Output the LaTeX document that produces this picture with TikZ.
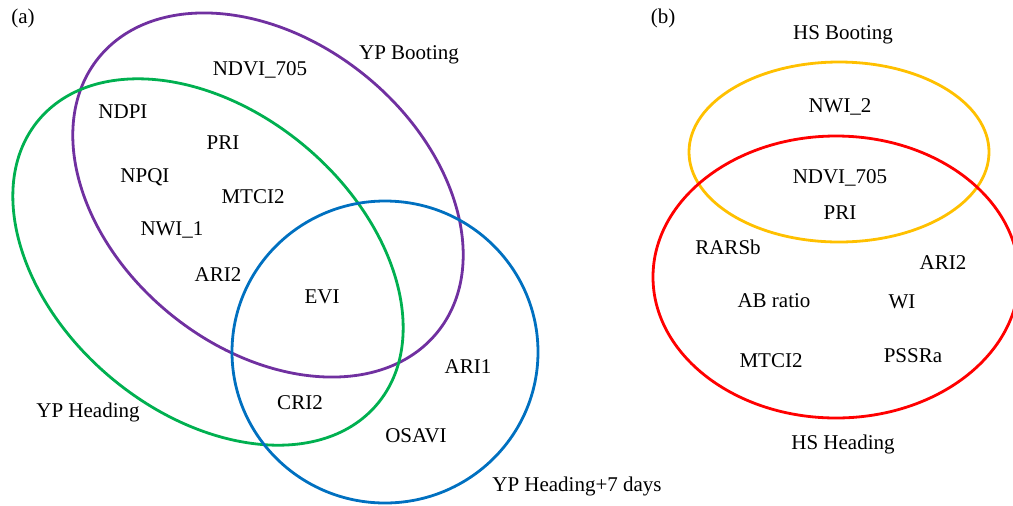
\documentclass[tikz,border=0pt]{standalone}
\usepackage{fontspec}
\setmainfont{Liberation Serif}
\definecolor{vnpurple}{RGB}{112,48,160}
\definecolor{vngreen}{RGB}{0,176,80}
\definecolor{vnblue}{RGB}{0,112,192}
\definecolor{vnyellow}{RGB}{255,192,0}
\definecolor{vnred}{RGB}{255,0,0}
\tikzset{lbl/.style={font=\fontsize{10.5}{12}\selectfont,inner sep=0pt},
  ring/.style={line width=1.4pt}}
\begin{document}
\begin{tikzpicture}[x=0.5pt,y=-0.5pt]
\useasboundingbox (0,0) rectangle (1013,505);
% ---- (a) yellow rust ----
\draw[ring,vnpurple] (268,195) ellipse [x radius=218,y radius=154,rotate=-39];
\draw[ring,vngreen] (208,262) ellipse [x radius=221,y radius=151,rotate=-40];
\draw[ring,vnblue] (385,352) ellipse [x radius=153,y radius=151];
\node[lbl] (tagA) at (23,18) {(a)};
\node[lbl] (ypboot) at (409,55) {YP Booting};
\node[lbl] (yphead) at (88,412) {YP Heading};
\node[lbl] (ypseven) at (577,486) {YP Heading+7 days};
\node[lbl] (andvi) at (260,70) {NDVI\_705};
\node[lbl] (andpi) at (123,112) {NDPI};
\node[lbl] (apri) at (223,143) {PRI};
\node[lbl] (anpqi) at (145,177) {NPQI};
\node[lbl] (amtci) at (253,197) {MTCI2};
\node[lbl] (anwi) at (172,230) {NWI\_1};
\node[lbl] (aari2) at (218,275) {ARI2};
\node[lbl] (aevi) at (322,297) {EVI};
\node[lbl] (aari1) at (468,367) {ARI1};
\node[lbl] (acri) at (300,403) {CRI2};
\node[lbl] (aosavi) at (416,436) {OSAVI};
% ---- (b) stripe rust ----
\draw[ring,vnyellow] (839,152) ellipse [x radius=150,y radius=90];
\draw[ring,vnred] (836,277) ellipse [x radius=183,y radius=141];
\node[lbl] (tagB) at (663,18) {(b)};
\node[lbl] (hsboot) at (843,35) {HS Booting};
\node[lbl] (hshead) at (843,444) {HS Heading};
\node[lbl] (bnwi) at (840,107) {NWI\_2};
\node[lbl] (bndvi) at (840,178) {NDVI\_705};
\node[lbl] (bpri) at (840,213) {PRI};
\node[lbl] (brars) at (728,247) {RARSb};
\node[lbl] (bari2) at (943,263) {ARI2};
\node[lbl] (babr) at (774,301) {AB ratio};
\node[lbl] (bwi) at (902,302) {WI};
\node[lbl] (bmtci) at (771,361) {MTCI2};
\node[lbl] (bpssr) at (913,356) {PSSRa};
\end{tikzpicture}
\end{document}
